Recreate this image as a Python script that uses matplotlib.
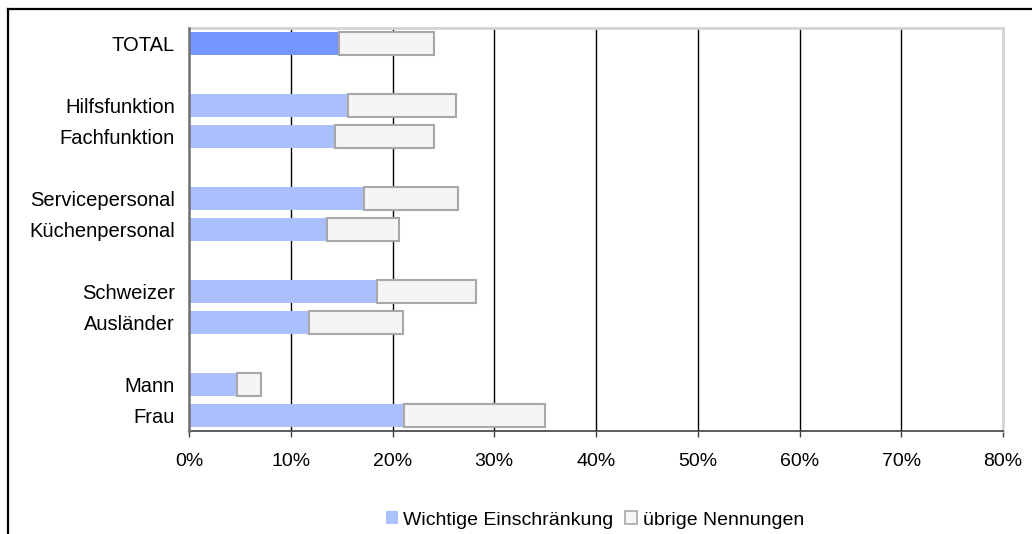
import matplotlib
matplotlib.use("Agg")
import matplotlib.pyplot as plt
from matplotlib.patches import Patch
from matplotlib.lines import Line2D
from matplotlib.ticker import PercentFormatter

plt.rcParams['font.family'] = ['Liberation Sans', 'DejaVu Sans']

categories = ["TOTAL", "Hilfsfunktion", "Fachfunktion", "Servicepersonal",
              "Küchenpersonal", "Schweizer", "Ausländer", "Mann", "Frau"]
slots = [0, 2, 3, 5, 6, 8, 9, 11, 12]
wichtige = [14.7, 15.6, 14.3, 17.2, 13.6, 18.5, 11.8, 4.7, 21.1]
uebrige = [9.4, 10.6, 9.8, 9.2, 7.0, 9.7, 9.2, 2.35, 13.9]
x_ticks = [0, 10, 20, 30, 40, 50, 60, 70, 80]

blue_total = "#7596FF"
blue_light = "#AABFFB"
gray_fill = "#F5F5F5"
gray_edge = "#A8A8A8"

fig = plt.figure(figsize=(10.32, 5.34), dpi=100)
ax = fig.add_axes([189 / 1032, 1 - 431 / 534, (1003 - 189) / 1032, (431 - 28) / 534])

colors = [blue_total] + [blue_light] * (len(categories) - 1)
ax.barh(slots, wichtige, height=0.71, color=colors, linewidth=0, zorder=3)
ax.barh(slots, uebrige, left=wichtige, height=0.71, color=gray_fill,
        edgecolor=gray_edge, linewidth=1.5, zorder=3)

ax.set_xlim(0, 80)
ax.set_ylim(12.5, -0.5)
ax.set_xticks(x_ticks)
ax.xaxis.set_major_formatter(PercentFormatter(decimals=0))
ax.set_yticks(slots)
ax.set_yticklabels(categories)

for v in x_ticks[1:-1]:
    ax.axvline(v, color="black", linewidth=1.0, zorder=1)

ax.spines['left'].set_color("#707070")
ax.spines['left'].set_linewidth(1.8)
ax.spines['left'].set_zorder(4)
ax.spines['bottom'].set_color("#404040")
ax.spines['bottom'].set_linewidth(1.2)
for s in ('top', 'right'):
    ax.spines[s].set_color("#D4D4D4")
    ax.spines[s].set_linewidth(2.0)

ax.tick_params(axis='y', length=0, pad=10, labelsize=14.5)
ax.tick_params(axis='x', length=4, width=1.0, color="#404040", pad=12, labelsize=14)

handles = [Patch(facecolor=blue_light, edgecolor="none"),
           Patch(facecolor=gray_fill, edgecolor=gray_edge, linewidth=1.2)]
fig.legend(handles, ["Wichtige Einschränkung", "übrige Nennungen"],
           loc="center", bbox_to_anchor=(595 / 1032, 1 - 520 / 534), ncol=2,
           frameon=False, fontsize=14, handlelength=0.6, handleheight=0.6,
           handletextpad=0.3, columnspacing=0.6)

# outer frame: top and left edges
fig.add_artist(Line2D([8 / 1032, 1.0], [1 - 9 / 534, 1 - 9 / 534],
                      color="black", linewidth=1.6, transform=fig.transFigure))
fig.add_artist(Line2D([8 / 1032, 8 / 1032], [1 - 9 / 534, 0.0],
                      color="black", linewidth=1.6, transform=fig.transFigure))

fig.savefig("out.png", dpi=100)
